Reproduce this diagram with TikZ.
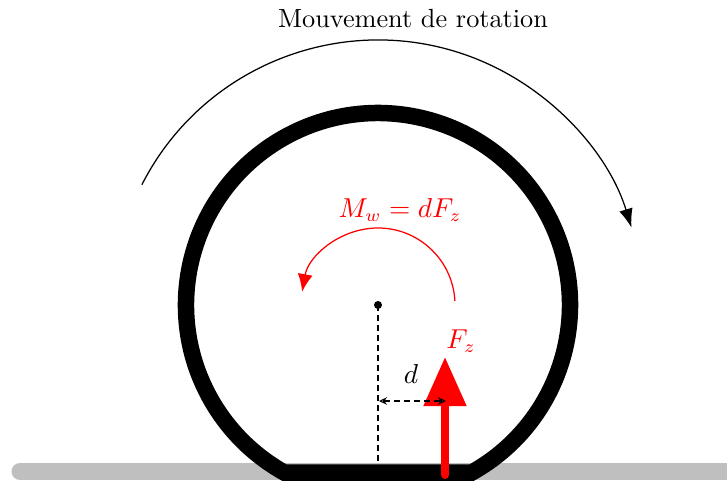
\documentclass[tikz,border=0pt]{standalone}
\usetikzlibrary{arrows.meta}
\begin{document}
\begin{tikzpicture}[x=0.4pt,y=0.4pt,
  wheel/.style={line width=6.6pt, line join=miter},
  ground/.style={gray!50, line width=6.8pt, line cap=round},
  dashline/.style={dash pattern=on 2.4pt off 1.6pt, line width=0.45pt},
  lbl/.style={font=\fontsize{10.5}{12}\selectfont}]
\useasboundingbox (0,0) rectangle (727,481);
\coordinate (C) at (378,176);
% ground
\coordinate (g1) at (20,9.5);
\coordinate (g2) at (740,9.5);
\draw[ground] (g1) -- (g2);
% wheel
\draw[wheel] (C) ++(-60.8:192) arc[start angle=-60.8, end angle=240.8, radius=192] -- cycle;
% rotation arrow
\draw[line width=0.5pt, -{Latex[length=7.5pt,width=5.5pt]}] (C) ++(153:265) arc[start angle=153, end angle=17, radius=265];
% moment arc
\draw[red, line width=0.5pt, -{Latex[length=7pt,width=6pt]}] (C) ++(3:77) arc[start angle=3, end angle=170, radius=77];
% centre dot and dashed vertical
\coordinate (G) at (378,16);
\draw[dashline] (C) -- (G);
\fill (C) circle[radius=4];
% force arrow
\coordinate (f1) at (445,6);
\coordinate (f2) at (445,124);
\draw[red, line width=3.2pt, line cap=round, -{Triangle[length=19.6pt,width=16.4pt]}] (f1) -- (f2);
% distance d
\coordinate (d1) at (379,80);
\coordinate (d2) at (446,80);
\draw[dashline, {Stealth[length=3.2pt,width=3pt,open]}-{Stealth[length=3.2pt,width=3pt,open]}] (d1) -- (d2);
% labels
\node[lbl] (title) at (413,462) {Mouvement de rotation};
\node[lbl, text=red] (mw) at (400,271) {$M_w = dF_z$};
\node[lbl, text=red] (fz) at (461,140) {$F_z$};
\node[lbl] (d) at (411,107) {$d$};
\end{tikzpicture}
\end{document}
